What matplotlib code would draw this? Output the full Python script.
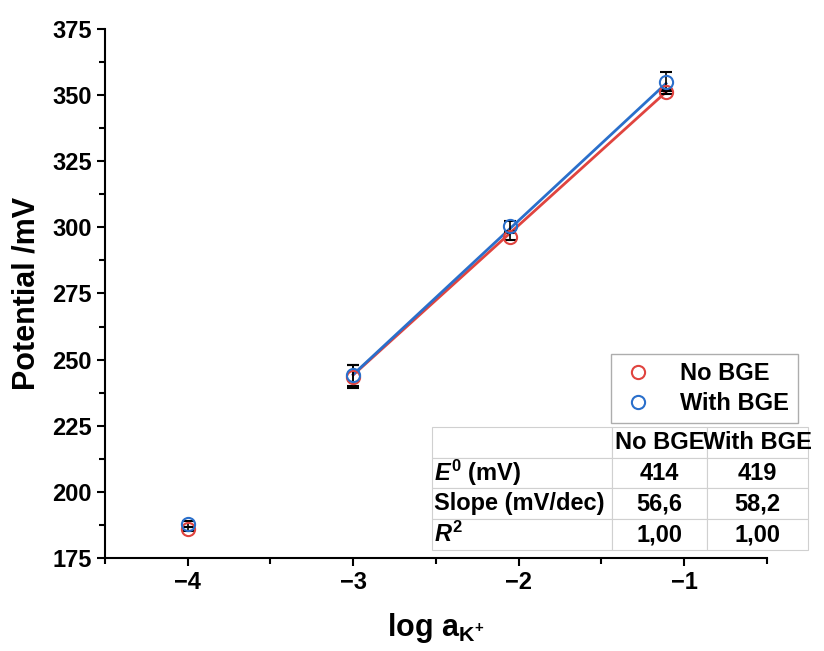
import matplotlib

matplotlib.use('Agg')
import matplotlib.pyplot as plt
import numpy as np
from matplotlib.ticker import MultipleLocator

plt.rcParams['font.family'] = ['Liberation Sans', 'DejaVu Sans']
plt.rcParams['font.weight'] = 'bold'
plt.rcParams['mathtext.fontset'] = 'custom'
plt.rcParams['mathtext.rm'] = 'Liberation Sans:bold'
plt.rcParams['mathtext.bf'] = 'Liberation Sans:bold'
plt.rcParams['mathtext.it'] = 'Liberation Sans:bold:italic'

# data
log_a = [-4.0, -3.0, -2.05, -1.11]
pot_no_bge = [186.0, 243.6, 296.5, 351.3]
err_no_bge = [0.8, 4.5, 1.2, 1.0]
pot_bge = [187.8, 244.0, 300.6, 355.0]
err_bge = [1.2, 4.0, 1.8, 3.6]

# fit (excludes -4)
fit_x = [-3.0, -1.11]
e0 = [414, 419]
slope = [56.6, 58.2]

table_cols = ['No BGE', 'With BGE']
table_rows = [r'$E^0$ (mV)', 'Slope (mV/dec)', r'$R^2$']
table_vals = [['414', '419'], ['56,6', '58,2'], ['1,00', '1,00']]

red = '#E0443F'
blue = '#2A6FCB'

fig = plt.figure(figsize=(8.24, 6.51), dpi=100)
ax = fig.add_axes([0.1274, 0.1429, 0.8034, 0.8126])

fx = np.array(fit_x)
ax.plot(fx, e0[0] + slope[0] * fx, color=red, lw=2, zorder=2)
ax.plot(fx, e0[1] + slope[1] * fx, color=blue, lw=2, zorder=2)

ax.errorbar(log_a, pot_no_bge, yerr=err_no_bge, fmt='o', mfc='none', mec=red,
            mew=1.5, ms=9.5, ecolor='black', elinewidth=1.2, capsize=4,
            capthick=1.2, label='No BGE', zorder=3)
ax.errorbar(log_a, pot_bge, yerr=err_bge, fmt='o', mfc='none', mec=blue,
            mew=1.5, ms=9.5, ecolor='black', elinewidth=1.2, capsize=4,
            capthick=1.2, label='With BGE', zorder=3)

ax.set_xlim(-4.5, -0.5)
ax.set_ylim(175, 375)
ax.xaxis.set_major_locator(MultipleLocator(1))
ax.xaxis.set_minor_locator(MultipleLocator(0.5))
ax.yaxis.set_major_locator(MultipleLocator(25))
ax.yaxis.set_minor_locator(MultipleLocator(12.5))
ax.tick_params(which='major', length=6, width=1.5, labelsize=17, direction='out')
ax.tick_params(which='minor', length=4, width=1.5, direction='out')
for s in ['top', 'right']:
    ax.spines[s].set_visible(False)
for s in ['left', 'bottom']:
    ax.spines[s].set_linewidth(1.5)

ax.set_ylabel('Potential /mV', fontsize=22, fontweight='bold', labelpad=8)
ax.set_xlabel(r'log a$_{\mathrm{K^{+}}}$', fontsize=22, fontweight='bold', labelpad=12)

handles, labels = ax.get_legend_handles_labels()
handles = [h[0] for h in handles]
leg = ax.legend(handles, labels, loc='upper left', bbox_to_anchor=(0.764, 0.386),
                fontsize=17, frameon=True, fancybox=False, handletextpad=1.0,
                borderpad=0.35, labelspacing=0.3, handlelength=1.6,
                borderaxespad=0)
leg.get_frame().set_edgecolor('#999999')
leg.get_frame().set_linewidth(1.0)

cell_text = [[''] + table_cols] + [[r] + v for r, v in zip(table_rows, table_vals)]
tbl = ax.table(cellText=cell_text, bbox=[0.494, 0.015, 0.568, 0.233],
               colWidths=[180, 95, 101], cellLoc='center')
tbl.auto_set_font_size(False)
for (r, c), cell in tbl.get_celld().items():
    cell.set_edgecolor('#D0D0D0')
    cell.set_linewidth(0.8)
    cell.set_facecolor('white')
    cell.get_text().set_fontsize(17)
    cell.get_text().set_fontweight('bold')
    if c == 0:
        cell.get_text().set_ha('left')
        cell.PAD = 0.01
tbl.set_zorder(5)

fig.savefig('out.png', dpi=100)
